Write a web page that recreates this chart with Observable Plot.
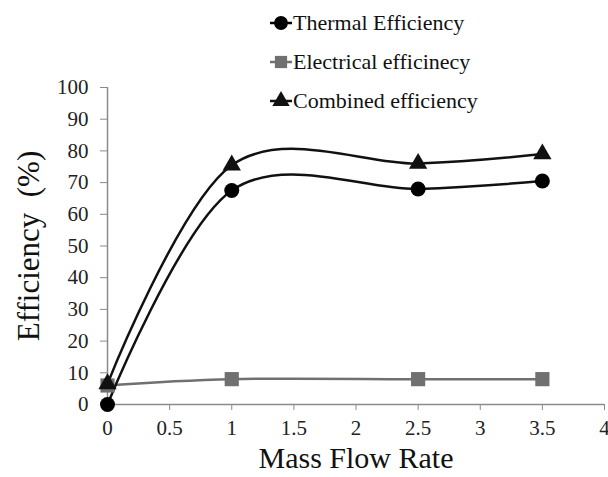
<!DOCTYPE html>
<html><head><meta charset="utf-8">
<script src="https://cdn.jsdelivr.net/npm/d3@7"></script>
<script src="https://cdn.jsdelivr.net/npm/@observablehq/plot@0.6"></script>
<style>
body{margin:0;background:#fff;}
#wrap{position:relative;width:608px;height:477px;}
#legend{position:absolute;left:268px;top:3px;font-family:"Liberation Serif",serif;font-size:22px;color:#111;}
#legend div{display:flex;align-items:center;height:39px;}
</style></head>
<body><div id="wrap"><div id="chart"></div><div id="legend"></div></div>
<script>
const massFlow = [0, 1, 2.5, 3.5];
const thermal = [0, 67.5, 68, 70.5];
const electrical = [6, 8, 8, 8];
const combined = [6.5, 75.5, 76, 79];
const xTicks = [0, 0.5, 1, 1.5, 2, 2.5, 3, 3.5, 4];
const yTicks = [0, 10, 20, 30, 40, 50, 60, 70, 80, 90, 100];
const seriesNames = ["Thermal Efficiency", "Electrical efficinecy", "Combined efficiency"];

const th = massFlow.map((x,i)=>({x, y: thermal[i]}));
const el = massFlow.map((x,i)=>({x, y: electrical[i]}));
const co = massFlow.map((x,i)=>({x, y: combined[i]}));

const gray = "#707070";
const serifName = "Liberation Serif";

const chart = Plot.plot({
  width: 608, height: 477,
  marginLeft: 107, marginRight: 4, marginTop: 87, marginBottom: 73,
  style: {background: "white"},
  x: {domain: [0, 4], label: null},
  y: {domain: [0, 100], label: null},
  marks: [
    Plot.ruleY([0], {stroke: "#8a8a8a", strokeWidth: 1.5}),
    Plot.ruleX([0], {stroke: "#8a8a8a", strokeWidth: 1.5}),
    Plot.axisX({ticks: xTicks, tickSize: 6, stroke: "#8a8a8a", tickFormat: () => "", label: null}),
    Plot.axisY({ticks: yTicks, tickSize: 7, stroke: "#8a8a8a", tickFormat: () => "", label: null}),
    Plot.text(xTicks, {x: d => d, frameAnchor: "bottom", lineAnchor: "top", dy: 16, text: d => String(d), fontSize: 21, fill: "#222", fontFamily: serifName}),
    Plot.text(yTicks, {y: d => d, frameAnchor: "left", textAnchor: "end", dx: -19, text: d => String(d), fontSize: 21, fill: "#222", fontFamily: serifName}),
    Plot.line(el, {x: "x", y: "y", stroke: gray, strokeWidth: 2.5, curve: "cardinal", tension: 0}),
    Plot.line(co, {x: "x", y: "y", stroke: "#111", strokeWidth: 2.5, curve: "cardinal", tension: 0}),
    Plot.line(th, {x: "x", y: "y", stroke: "#111", strokeWidth: 2.5, curve: "cardinal", tension: 0}),
    Plot.dot(el, {x: "x", y: "y", symbol: "square", r: 8, fill: gray, stroke: "none"}),
    Plot.dot(co, {x: "x", y: "y", symbol: "triangle", r: 6.8, fill: "#111", stroke: "none"}),
    Plot.dot(th, {x: "x", y: "y", symbol: "circle", r: 7.5, fill: "#000", stroke: "none"}),
    Plot.text(["Mass Flow Rate"], {frameAnchor: "bottom", dy: 63, fontSize: 30, fill: "#111", fontFamily: serifName}),
    Plot.text(["Efficiency  (%)"], {frameAnchor: "left", textAnchor: "middle", dx: -78, rotate: -90, fontSize: 31, fill: "#111", fontFamily: serifName})
  ]
});
document.getElementById("chart").appendChild(chart);

const symbols = [
  {sym: d3.symbolCircle, size: 150, color: "#000"},
  {sym: d3.symbolSquare, size: 150, color: gray},
  {sym: d3.symbolTriangle, size: 130, color: "#111"}
];
const leg = d3.select("#legend");
seriesNames.forEach((name, i) => {
  const row = leg.append("div");
  const s = row.append("svg").attr("width", 25).attr("height", 20);
  s.append("line").attr("x1", 2).attr("x2", 24).attr("y1", 10).attr("y2", 10)
    .attr("stroke", symbols[i].color).attr("stroke-width", 2.5);
  s.append("path").attr("transform", "translate(13,10)")
    .attr("d", d3.symbol(symbols[i].sym, symbols[i].size)()).attr("fill", symbols[i].color);
  row.append("span").text(name);
});
</script></body></html>
